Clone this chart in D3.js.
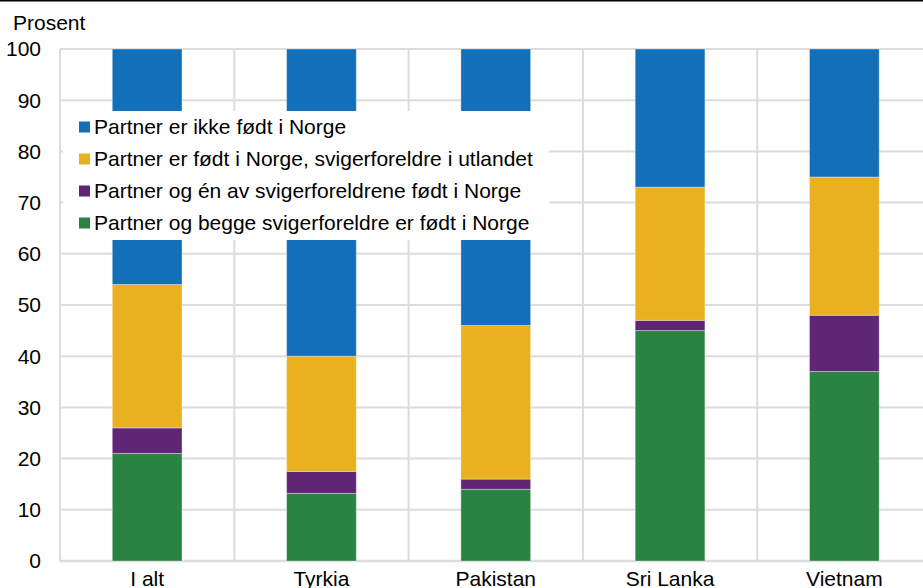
<!DOCTYPE html>
<meta charset="utf-8">
<style>
  body { margin: 0; background: #fff; }
  text { font-family: "Liberation Sans", Arial, sans-serif; fill: #000; }
</style>
<body>
<svg width="923" height="588"></svg>
</body>
<script src="https://d3js.org/d3.v7.min.js"></script>
<script>

var categories = ["I alt", "Tyrkia", "Pakistan", "Sri Lanka", "Vietnam"];

// one array per series, bottom to top
var beggeNorge = [21, 13.2, 14, 45, 37];
var enNorge    = [5, 4.3, 2, 2, 11];
var svigerUtl  = [28, 22.5, 30, 26, 27];
var ikkeNorge  = [46, 60, 54, 27, 25];

var seriesNames = [
  "Partner og begge svigerforeldre er født i Norge",
  "Partner og én av svigerforeldrene født i Norge",
  "Partner er født i Norge, svigerforeldre i utlandet",
  "Partner er ikke født i Norge"
];
var seriesColors = ["#298341", "#5f2675", "#e9b11f", "#146fb9"];
var yTicks = [0, 10, 20, 30, 40, 50, 60, 70, 80, 90, 100];

var svg = d3.select("svg");

var rows = categories.map((c, i) => ({
  cat: c, s0: beggeNorge[i], s1: enNorge[i], s2: svigerUtl[i], s3: ikkeNorge[i]
}));
var stack = d3.stack().keys(["s0", "s1", "s2", "s3"])(rows);

var x = d3.scaleBand().domain(categories).range([60, 931.5]).paddingInner(0.6).paddingOuter(0.3);
var y = d3.scaleLinear().domain([0, 100]).range([561, 49]);

// top border
svg.append("line").attr("x1", 0).attr("x2", 923).attr("y1", 0.5).attr("y2", 0.5)
  .attr("stroke", "#000").attr("stroke-width", 2);

// horizontal grid
svg.append("g").selectAll("line").data(yTicks).join("line")
  .attr("x1", 60).attr("x2", 931)
  .attr("y1", d => y(d)).attr("y2", d => y(d))
  .attr("stroke", "#dcdcdc").attr("stroke-width", d => d === 0 ? 2.5 : 2);

// vertical grid at category boundaries
var step = x.step();
var bounds = d3.range(categories.length + 1).map(i => 60 + i * step);
svg.append("g").selectAll("line").data(bounds).join("line")
  .attr("x1", d => d).attr("x2", d => d)
  .attr("y1", y(100)).attr("y2", y(0))
  .attr("stroke", "#dcdcdc").attr("stroke-width", 2);

// bars
svg.append("g").selectAll("g").data(stack).join("g")
  .attr("fill", (d, i) => seriesColors[i])
  .selectAll("rect").data(d => d).join("rect")
  .attr("x", d => x(d.data.cat))
  .attr("width", x.bandwidth())
  .attr("y", d => y(d[1]))
  .attr("height", d => y(d[0]) - y(d[1]))
  .attr("stroke", "#fff").attr("stroke-opacity", 0.35).attr("stroke-width", 1);

// y tick labels
svg.append("g").selectAll("text").data(yTicks).join("text")
  .attr("x", 41).attr("y", d => y(d)).attr("dy", "0.35em")
  .attr("text-anchor", "end").style("font-size", "21px")
  .text(d => d);

svg.append("text").attr("x", 13).attr("y", 30).style("font-size", "21px").text("Prosent");

// x labels
svg.append("g").selectAll("text").data(categories).join("text")
  .attr("x", d => x(d) + x.bandwidth() / 2).attr("y", 586)
  .attr("text-anchor", "middle").style("font-size", "21px")
  .text(d => d);

// legend (top series first)
var leg = svg.append("g");
leg.append("rect").attr("x", 63).attr("y", 111).attr("width", 486).attr("height", 129).attr("fill", "#fff");
var legItems = [3, 2, 1, 0];
legItems.forEach((s, i) => {
  var cy = 127 + i * 32;
  leg.append("rect").attr("x", 79).attr("y", cy - 5.5).attr("width", 11).attr("height", 11)
    .attr("fill", seriesColors[s]);
  leg.append("text").attr("x", 94).attr("y", cy).attr("dy", "0.35em")
    .style("font-size", "21px").text(seriesNames[s]);
});

</script>
